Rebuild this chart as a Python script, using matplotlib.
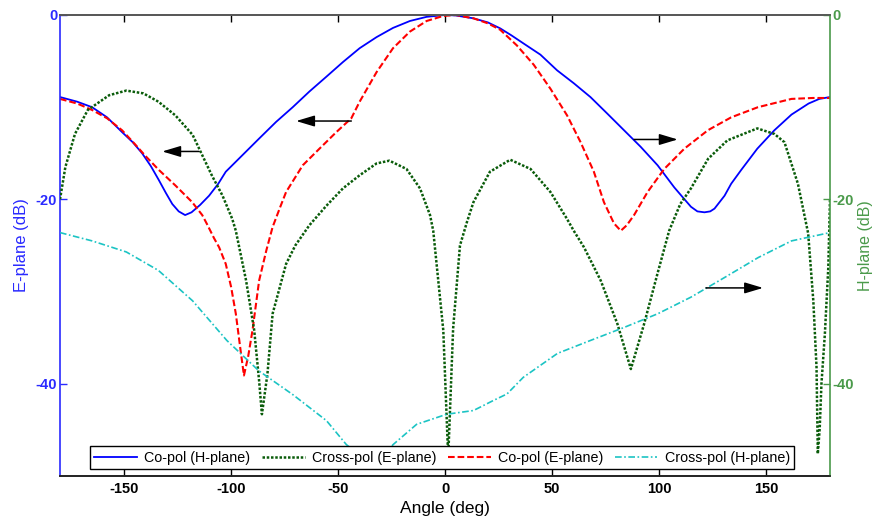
import matplotlib
matplotlib.use("Agg")
import matplotlib.pyplot as plt

plt.rcParams['font.family'] = ['Liberation Sans', 'DejaVu Sans']

# ---------------- data ----------------
copol_h_ang = [-180, -172, -165, -158, -151, -146, -141.6, -137.5, -133.8, -130.5, -127.5,
               -124.5, -121.5, -118.5, -114.5, -110.3, -106, -102.5, -94.7, -86.9, -79,
               -71.2, -63.4, -55.5, -47.7, -39.9, -32, -24.3, -16.4, -8.6, 0, 5, 13.3, 20,
               25.8, 31, 36.8, 44.6, 52.4, 60.2, 68, 75.9, 83.7, 91.5, 99.4, 107.2, 112,
               115, 118, 121.3, 124, 126, 130.7, 133.8, 138.5, 146, 154, 162, 170, 175, 180]
copol_h_val = [-8.9, -9.4, -10.0, -11.1, -12.7, -13.8, -15.0, -16.4, -17.9, -19.3, -20.5,
               -21.3, -21.7, -21.4, -20.6, -19.6, -18.3, -17.0, -15.2, -13.4, -11.6,
               -10.0, -8.3, -6.7, -5.1, -3.6, -2.4, -1.4, -0.65, -0.2, 0.0, -0.05, -0.36, -0.8,
               -1.45, -2.2, -3.1, -4.3, -6.0, -7.4, -8.9, -10.7, -12.5, -14.3, -16.3, -18.7, -20.0,
               -20.8, -21.3, -21.4, -21.3, -21.0, -19.6, -18.3, -16.8, -14.5, -12.5, -10.8, -9.6, -9.1, -8.9]

copol_e_ang = [-180, -172, -165, -158, -151, -145, -140, -133.8, -126, -118.2, -113.5, -111,
               -108, -105.6, -102.5, -100, -97.8, -95.5, -94, -92, -90, -86.9, -83.5, -80.6,
               -77, -74.3, -66.5, -58.7, -50.8, -43.8, -39.9, -32, -24.3, -16.4, -8.6, -0.8,
               5, 13.3, 20, 25.8, 33.6, 41.5, 49.3, 57.1, 63.4, 69.6, 74.3, 79, 82.2, 85,
               88.4, 94.7, 102.5, 111.9, 122.9, 133.8, 146.3, 162, 172, 180]
copol_e_val = [-9.1, -9.6, -10.3, -11.2, -12.5, -14.0, -15.3, -16.8, -18.5, -20.3, -21.7, -22.8,
               -24.2, -25.2, -27.0, -29.5, -32.4, -36.5, -39.1, -37.0, -34.2, -28.8, -25.5, -23.0,
               -20.8, -19.2, -16.3, -14.5, -12.7, -11.2, -9.4, -6.2, -3.6, -1.8, -0.65, -0.1,
               0.0, -0.36, -0.9, -1.6, -3.3, -5.4, -8.0, -10.9, -13.8, -17.0, -20.3, -22.6, -23.4, -22.8,
               -21.7, -19.2, -16.7, -14.5, -12.5, -11.1, -10.0, -9.1, -9.0, -9.0]

xpol_e_ang = [-180, -177.5, -173, -167, -157, -149, -141, -134, -126, -118, -113.5, -109,
              -104, -99.5, -97.8, -93, -89.2, -86.9, -85.6, -83, -80.6, -74.3, -70, -63.4,
              -55.5, -47.7, -40, -32, -26, -18, -11.7, -7, -5.5, -0.8, 1.5, 3.8, 7, 10.2,
              13.3, 21, 30.5, 40, 49.3, 57, 60.2, 65, 72.8, 80.6, 86.9, 93.1, 99.4, 104.8,
              110, 115, 123, 132, 146, 154, 158.7, 165, 169.8, 172.2, 173.7, 174.3, 175.2,
              176, 177.6, 179.2, 180]
xpol_e_val = [-20.0, -16.5, -12.9, -10.3, -8.7, -8.2, -8.5, -9.4, -10.9, -13.0, -15.2, -17.4,
              -19.6, -22.1, -23.4, -28.8, -34.2, -39.7, -43.3, -38.9, -32.4, -27.0, -25.0, -22.8,
              -20.7, -18.8, -17.4, -16.1, -15.8, -16.7, -18.8, -21.7, -23.4, -34.2, -48.0, -34.0, -25.0, -22.5,
              -20.3, -17.0, -15.7, -16.7, -19.2, -22.1, -23.4, -25.2, -28.8, -33.5, -38.4, -33.5, -28.0, -23.4,
              -20.5, -18.8, -15.6, -13.6, -12.3, -12.9, -13.8, -18.3, -23.7, -31.0, -38.2, -47.6, -44.8,
              -40.0, -34.6, -27.4, -20.0]

xpol_h_ang = [-180, -165, -149, -134, -118, -102, -87, -71, -55.4, -46.1, -33, -24.3, -13.3,
              0.8, 13.3, 22.7, 29, 36.6, 52.6, 68, 83.6, 99.5, 115, 130.5, 146.5, 162, 180]
xpol_h_val = [-23.6, -24.5, -25.7, -27.7, -31.0, -35.3, -38.6, -41.2, -44.0, -46.6, -49.0, -46.6, -44.4,
              -43.3, -42.9, -41.8, -41.1, -39.3, -36.7, -35.3, -33.9, -32.4, -30.6, -28.5, -26.3, -24.5, -23.6]

legend_labels = ['Co-pol (H-plane)', 'Cross-pol (E-plane)', 'Co-pol (E-plane)', 'Cross-pol (H-plane)']
x_ticks = [-150, -100, -50, 0, 50, 100, 150]
y_ticks = [-40, -20, 0]

# arrows: (x_start, x_end, y)
arrows = [(-115, -132.2, -14.8), (-43.8, -69.6, -11.5), (88.4, 108.8, -13.5), (122, 148.7, -29.6)]

# ---------------- figure ----------------
BLUE = '#0000ff'
RED = '#ff0000'
DGREEN = '#0a5c0a'
CYAN = '#1cc4c4'
AXGREEN = '#4a9a4a'
AXBLUE = '#2a2aff'

fig = plt.figure(figsize=(8.75, 5.19), dpi=100)
ax = fig.add_axes([60 / 875, 1 - 476 / 519, 770 / 875, 461 / 519])
ax2 = ax.twinx()

l1, = ax.plot(copol_h_ang, copol_h_val, color=BLUE, lw=1.3, solid_joinstyle='round')
l3, = ax.plot(copol_e_ang, copol_e_val, color=RED, lw=1.5, dashes=(3.2, 1.4))
l2, = ax2.plot(xpol_e_ang, xpol_e_val, color=DGREEN, lw=1.8, dashes=(1, 0.7))
l4, = ax2.plot(xpol_h_ang, xpol_h_val, color=CYAN, lw=1.2, dashes=(4, 1.5, 1, 1.5))

for a in (ax, ax2):
    a.set_xlim(-180, 180)
    a.set_ylim(-50, 0)
    a.set_yticks(y_ticks)

ax.set_xticks(x_ticks)
ax.set_xticklabels([str(v) for v in x_ticks], fontweight='bold', fontsize=10.5)
ax.set_yticklabels([str(v) for v in y_ticks], fontweight='bold', fontsize=10.5, color=AXBLUE)
ax2.set_yticklabels([str(v) for v in y_ticks], fontweight='bold', fontsize=10.5, color=AXGREEN)

ax.tick_params(axis='x', direction='in', top=True, length=5, width=1, pad=4, colors='black')
ax.tick_params(axis='y', direction='in', length=5, width=1, pad=2, colors=AXBLUE)
ax2.tick_params(axis='y', direction='in', length=5, width=1, pad=2, colors=AXGREEN)

ax.spines['left'].set_color(AXBLUE)
ax.spines['right'].set_visible(False)
ax.spines['top'].set_color('#555555')
ax.spines['bottom'].set_color('#222222')
ax2.spines['left'].set_visible(False)
ax2.spines['top'].set_color('#555555')
ax2.spines['bottom'].set_color('#222222')
ax2.spines['right'].set_color(AXGREEN)
for a in (ax, ax2):
    for s in a.spines.values():
        s.set_linewidth(1.2)

ax.set_xlabel('Angle (deg)', fontsize=12.5, labelpad=4)
ax.set_ylabel('E-plane (dB)', fontsize=12, color=AXBLUE, labelpad=5)
ax2.set_ylabel('H-plane (dB)', fontsize=11.5, color=AXGREEN, labelpad=3)

for xs, xe, yy in arrows:
    ax2.annotate('', xy=(xe, yy), xytext=(xs, yy),
                 arrowprops=dict(arrowstyle='-|>,head_length=0.8,head_width=0.24',
                                 color='black', lw=1.1, mutation_scale=14,
                                 shrinkA=0, shrinkB=0))

leg = ax2.legend([l1, l2, l3, l4], legend_labels, ncol=4, loc='center',
                 bbox_to_anchor=(0.496, 0.04), fontsize=10.3, frameon=True,
                 fancybox=False, framealpha=1, edgecolor='black',
                 handlelength=3.0, handletextpad=0.5, columnspacing=0.8,
                 borderpad=0.3, borderaxespad=0)
leg.get_frame().set_linewidth(1.0)

fig.savefig('out.png', dpi=100)
